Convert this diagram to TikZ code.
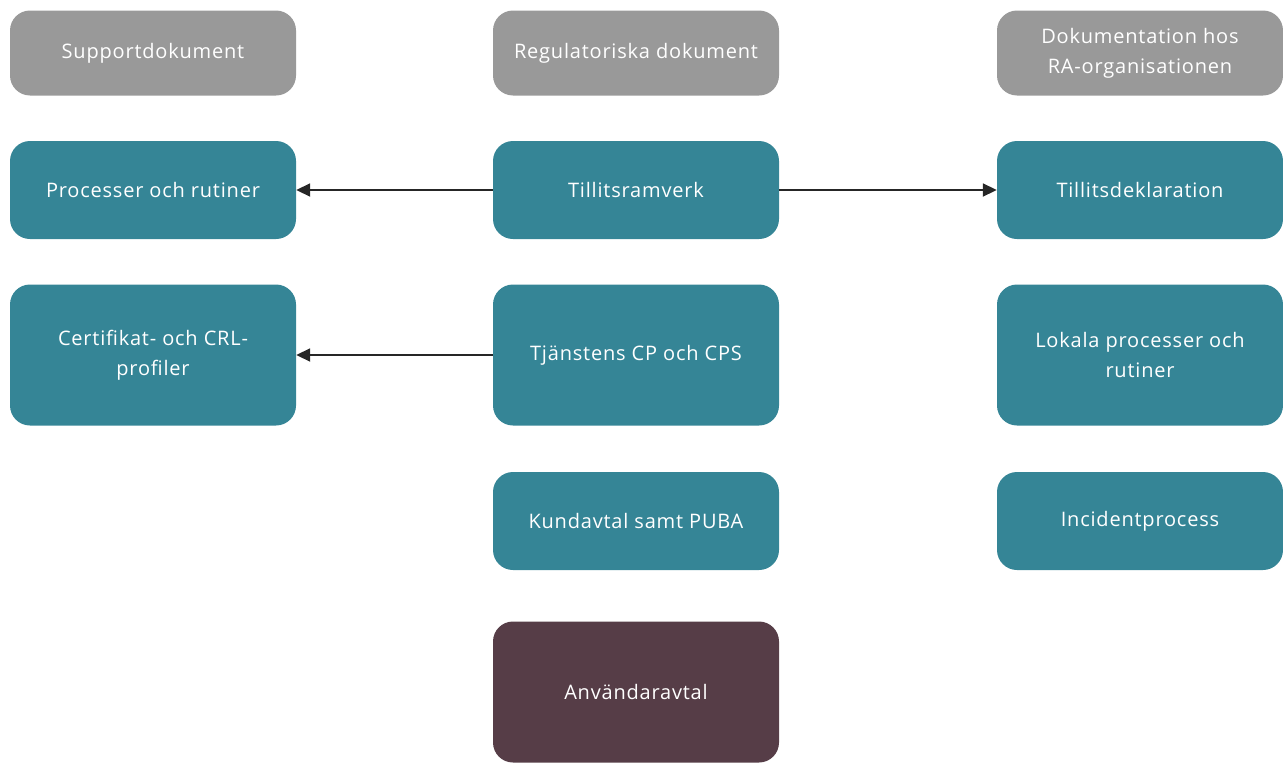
\documentclass[tikz,border=0pt]{standalone}
\usepackage{fontspec}
\setmainfont{Open Sans}[LetterSpace=4]
\usetikzlibrary{arrows.meta}

\tikzset{
  doc/.style={rounded corners=20pt, minimum width=286pt, inner sep=0pt,
    text=white, align=center, font=\fontsize{20}{30}\selectfont},
  head/.style={doc, fill=headgray, minimum height=85pt},
  main/.style={doc, fill=docteal},
  user/.style={doc, fill=docplum},
  link/.style={-{Triangle[length=14pt,width=13pt]}, line width=1.8pt, black!85}
}
\definecolor{headgray}{RGB}{153,153,153}
\definecolor{docteal}{RGB}{53,133,150}
\definecolor{docplum}{RGB}{86,61,71}

\begin{document}
\begin{tikzpicture}[x=1pt, y=-1pt]
    \useasboundingbox (0,0) rectangle (1283,763);
    % rubriker
    \node[head] (sup) at (153,53) {Supportdokument};
    \node[head] (reg) at (636,53) {Regulatoriska dokument};
    \node[head] (ra) at (1140,53) {Dokumentation hos\\RA-organisationen};

    \node[main, minimum height=98pt] (proc) at (153,190) {Processer och rutiner};
    \node[main, minimum height=98pt] (ram) at (636,190) {Tillitsramverk};
    \node[main, minimum height=98pt] (dekl) at (1140,190) {Tillitsdeklaration};

    \node[main, minimum height=141pt] (prof) at (153,355) {Certifikat- och CRL-\\profiler};
    \node[main, minimum height=141pt] (cps) at (636,355) {Tjänstens CP och CPS};
    \node[main, minimum height=141pt] (lok) at (1140,355) {Lokala processer och\\rutiner};

    \node[main, minimum height=98pt] (kund) at (636,521) {Kundavtal samt PUBA};
    \node[main, minimum height=98pt] (inc) at (1140,521) {Incidentprocess};

    \node[user, minimum height=141pt] (anv) at (636,692) {Användaravtal};

    \draw[link] (ram) -- (proc);
    \draw[link] (ram) -- (dekl);
    \draw[link] (cps) -- (prof);
\end{tikzpicture}
\end{document}
